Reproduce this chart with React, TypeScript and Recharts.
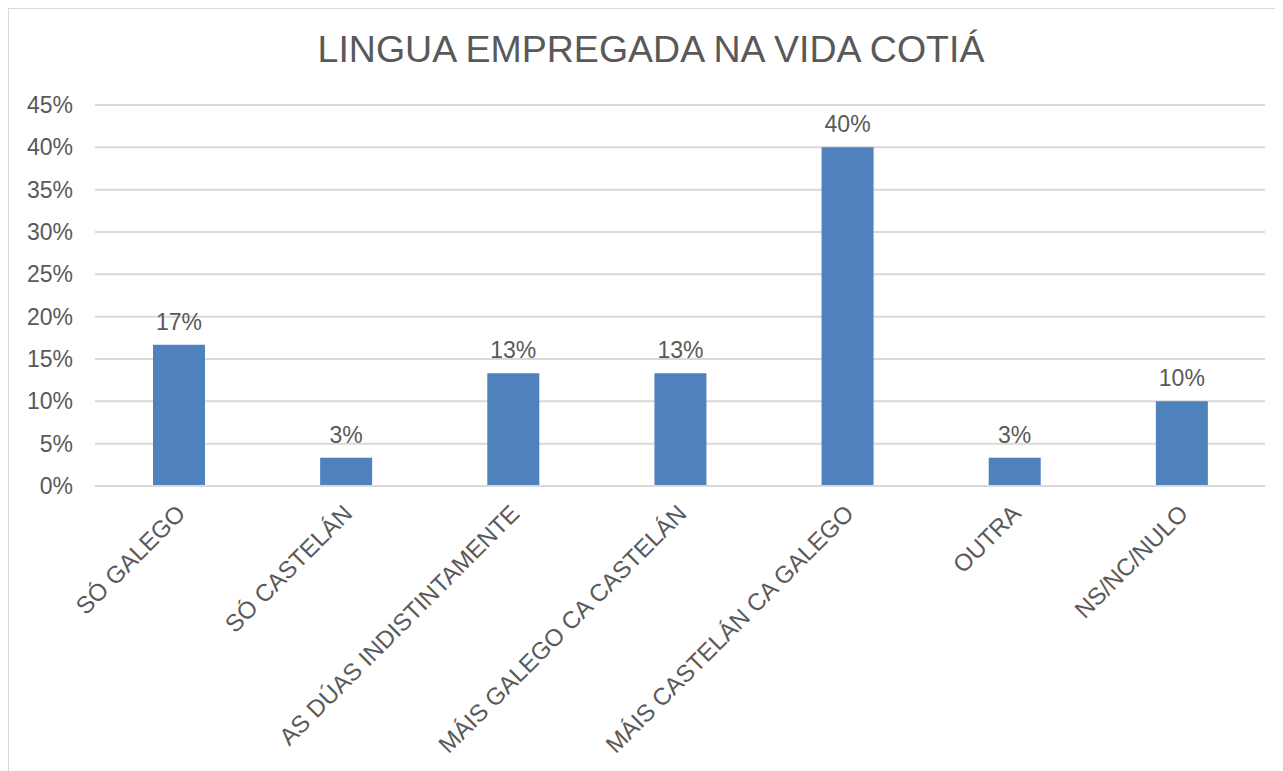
import { Bar, BarChart, CartesianGrid, LabelList, XAxis, YAxis } from "recharts";

const categories = [
  "SÓ GALEGO",
  "SÓ CASTELÁN",
  "AS DÚAS INDISTINTAMENTE",
  "MÁIS GALEGO CA CASTELÁN",
  "MÁIS CASTELÁN CA GALEGO",
  "OUTRA",
  "NS/NC/NULO",
];

const shares = [0.1667, 0.0333, 0.1333, 0.1333, 0.4, 0.0333, 0.1];

const yTicks = [0, 0.05, 0.1, 0.15, 0.2, 0.25, 0.3, 0.35, 0.4, 0.45];

const TEXT = "#595959";
const FONT = "'Liberation Sans', Arial, sans-serif";

const data = categories.map((name, i) => ({ name, value: shares[i] }));

const pct = (v: number) => `${Math.round(v * 100)}%`;

function CategoryTick({ x, y, payload }: { x?: number; y?: number; payload?: { value: string } }) {
  return (
    <g transform={`translate(${(x ?? 0) - 4},${(y ?? 0) + 9})`}>
      <text
        textAnchor="end"
        transform="rotate(-45)"
        dy="0.71em"
        fill={TEXT}
        fontSize={24}
        fontFamily={FONT}
      >
        {payload?.value}
      </text>
    </g>
  );
}

export default function App() {
  return (
    <div
      style={{
        position: "relative",
        width: 1274,
        height: 762,
        border: "1px solid #d9d9d9",
        background: "#fff",
        fontFamily: FONT,
      }}
    >
      <div
        style={{
          position: "absolute",
          top: 19,
          left: 5,
          width: "100%",
          textAlign: "center",
          fontSize: 37.5,
          color: TEXT,
        }}
      >
        LINGUA EMPREGADA NA VIDA COTIÁ
      </div>
      <BarChart
        width={1274}
        height={762}
        data={data}
        margin={{ top: 96, right: 18, left: 0, bottom: 0 }}
      >
        <CartesianGrid vertical={false} stroke="#d9d9d9" strokeWidth={2} />
        <XAxis
          dataKey="name"
          interval={0}
          height={285}
          axisLine={{ stroke: "#d9d9d9", strokeWidth: 2 }}
          tickLine={false}
          tick={<CategoryTick />}
        />
        <YAxis
          width={86}
          domain={[0, 0.45]}
          ticks={yTicks}
          tickFormatter={pct}
          axisLine={false}
          tickLine={false}
          tickSize={6}
          tickMargin={16}
          tick={{ fill: TEXT, fontSize: 23, fontFamily: FONT }}
        />
        <Bar dataKey="value" fill="#4f81bd" barSize={52} isAnimationActive={false}>
          <LabelList
            dataKey="value"
            position="top"
            offset={15}
            formatter={(v: number) => pct(v)}
            fill={TEXT}
            fontSize={23}
            fontFamily={FONT}
          />
        </Bar>
      </BarChart>
    </div>
  );
}
